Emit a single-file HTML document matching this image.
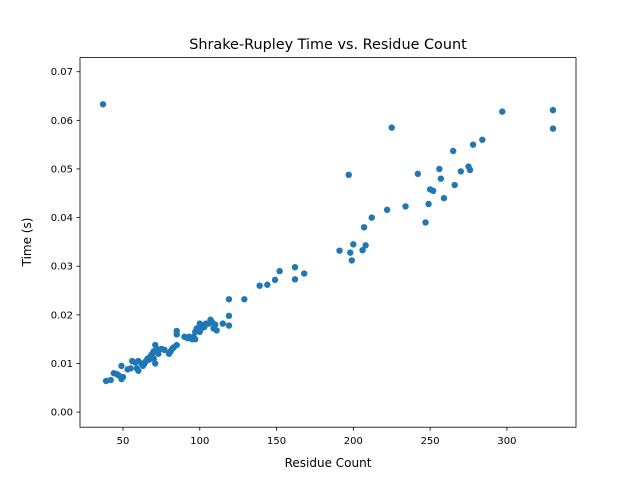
<!DOCTYPE html>
<html><head><meta charset="utf-8"><style>
html,body{margin:0;padding:0;background:#fff}
svg text{font-family:"DejaVu Sans","Liberation Sans",sans-serif;fill:#000}
</style></head><body>
<svg id="chart" width="640" height="480">
<rect width="640" height="480" fill="#fff"/>
<text x="328" y="49" font-size="14.4" text-anchor="middle">Shrake-Rupley Time vs. Residue Count</text>
<g id="marks"></g>
<g id="axes"></g>
<rect x="80" y="57.6" width="496" height="369.6" fill="none" stroke="#000" stroke-width="0.8"/>
<text x="328" y="467" font-size="12" text-anchor="middle">Residue Count</text>
<text transform="translate(31,242) rotate(-90)" font-size="12" text-anchor="middle">Time (s)</text>
</svg>
<script>
const residues=[37,39,42,44,46,47,49,49,50,53,55,56,58,59,60,60,62,63,64,65,66,67,68,69,70,70,71,71,72,73,75,77,80,81,82,83,85,85,85,90,92,93,95,96,97,97,98,99,100,100,101,102,103,104,106,107,108,109,110,111,115,119,119,119,129,139,144,149,152,162,162,168,191,197,198,199,200,206,207,208,212,222,225,234,242,247,249,250,252,256,257,259,265,266,270,275,276,278,284,297,330,330];
const times=[0.0633,0.0064,0.0066,0.0080,0.0078,0.0076,0.0068,0.0095,0.0072,0.0088,0.0090,0.0105,0.0102,0.0090,0.0085,0.0105,0.0100,0.0095,0.0100,0.0105,0.0110,0.0108,0.0115,0.0120,0.0110,0.0125,0.0100,0.0138,0.0130,0.0120,0.0130,0.0128,0.0120,0.0125,0.0130,0.0133,0.0138,0.0160,0.0167,0.0155,0.0152,0.0155,0.0150,0.0155,0.0150,0.0165,0.0172,0.0168,0.0182,0.0165,0.0172,0.0178,0.0175,0.0182,0.0182,0.0190,0.0185,0.0172,0.0180,0.0168,0.0182,0.0232,0.0198,0.0178,0.0232,0.0260,0.0262,0.0272,0.0290,0.0298,0.0273,0.0285,0.0332,0.0488,0.0328,0.0312,0.0345,0.0333,0.0380,0.0343,0.0400,0.0416,0.0585,0.0423,0.0490,0.0390,0.0428,0.0458,0.0455,0.0500,0.0480,0.0440,0.0537,0.0467,0.0495,0.0505,0.0498,0.0550,0.0560,0.0618,0.0621,0.0583];
const xTicks=[50,100,150,200,250,300];
const yTicks=[0,0.01,0.02,0.03,0.04,0.05,0.06,0.07];
const yTickLabels=["0.00","0.01","0.02","0.03","0.04","0.05","0.06","0.07"];
const NS="http://www.w3.org/2000/svg";
const L=80,R=576,T=57.6,B=427.2;
const x0=22.0,x1=345.0,y0=-0.0031,y1=0.0729;
const sx=v=>L+(v-x0)/(x1-x0)*(R-L);
const sy=v=>B-(v-y0)/(y1-y0)*(B-T);
const marks=document.getElementById('marks');
residues.forEach((r,i)=>{
 const c=document.createElementNS(NS,'circle');
 c.setAttribute('cx',sx(r));c.setAttribute('cy',sy(times[i]));c.setAttribute('r',3.2);c.setAttribute('fill','#1f77b4');
 
 
 marks.appendChild(c);
});
const axes=document.getElementById('axes');
xTicks.forEach(t=>{
 const l=document.createElementNS(NS,'line');
 l.setAttribute('x1',sx(t));l.setAttribute('x2',sx(t));l.setAttribute('y1',B);l.setAttribute('y2',B+3.5);l.setAttribute('stroke','#000');l.setAttribute('stroke-width','0.8');
 
 
 axes.appendChild(l);
 const tx=document.createElementNS(NS,'text');
 tx.setAttribute('x',sx(t));tx.setAttribute('y',B+17);tx.setAttribute('font-size','10');tx.setAttribute('text-anchor','middle');tx.textContent=t;
 
 
 axes.appendChild(tx);
});
yTicks.forEach((t,i)=>{
 const l=document.createElementNS(NS,'line');
 l.setAttribute('x1',L-3.5);l.setAttribute('x2',L);l.setAttribute('y1',sy(t));l.setAttribute('y2',sy(t));l.setAttribute('stroke','#000');l.setAttribute('stroke-width','0.8');
 
 
 axes.appendChild(l);
 const tx=document.createElementNS(NS,'text');
 tx.setAttribute('x',L-7);tx.setAttribute('y',sy(t)+3.5);tx.setAttribute('font-size','10');tx.setAttribute('text-anchor','end');tx.textContent=yTickLabels[i];
 
 
 axes.appendChild(tx);
});
</script>
</body></html>
